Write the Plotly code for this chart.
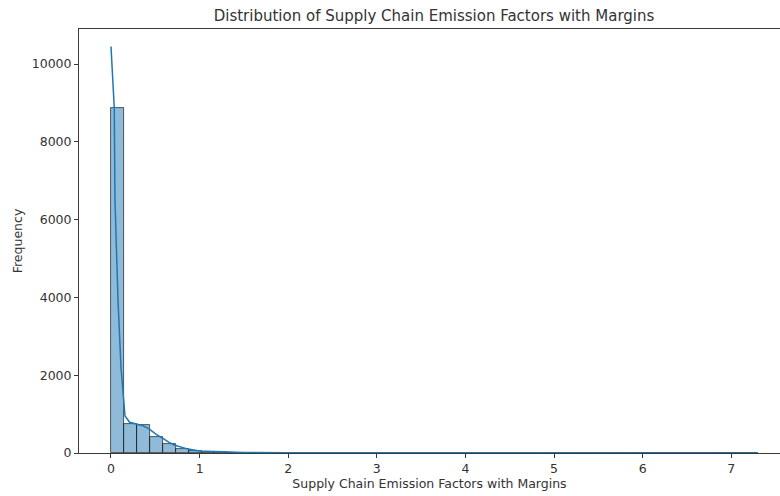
import numpy as np
import plotly.graph_objects as go

# ---- data ----
data_min = 0.0
data_max = 7.3
bin_counts = [8870, 740, 715, 410, 220, 110, 55, 30, 18, 12,
              8, 6, 5, 4, 3, 3, 2, 2, 2, 1,
              1, 1, 1, 1, 0, 1, 0, 0, 1, 0,
              1, 0, 0, 0, 1, 0, 0, 0, 0, 1,
              0, 0, 0, 0, 0, 0, 0, 0, 0, 1]

kde_x = [0.0, 0.037, 0.045, 0.079, 0.113, 0.158, 0.21, 0.29, 0.36, 0.43,
         0.51, 0.59, 0.65, 0.72, 0.87, 1.0, 1.25, 1.5, 2.0, 3.0,
         4.0, 5.0, 6.0, 7.0, 7.3]
kde_y = [10450, 8870, 6500, 3930, 2200, 950, 790, 745, 700, 620,
         480, 370, 280, 200, 100, 50, 25, 15, 8, 4,
         3, 2, 2, 1, 1]

x_ticks = [0, 1, 2, 3, 4, 5, 6, 7]
y_ticks = [0, 2000, 4000, 6000, 8000, 10000]

title_text = "Distribution of Supply Chain Emission Factors with Margins"
x_label = "Supply Chain Emission Factors with Margins"
y_label = "Frequency"

# ---- build ----
n_bins = len(bin_counts)
edges = np.linspace(data_min, data_max, n_bins + 1)
centers = (edges[:-1] + edges[1:]) / 2
bw = edges[1] - edges[0]

FONT = "DejaVu Sans"
TXT = "#333333"
AX = "#3a3a3a"
FS = 12.5

fig = go.Figure()
fig.add_trace(go.Bar(
    x=centers, y=bin_counts, width=bw,
    marker=dict(color="rgba(31,119,180,0.5)",
                line=dict(color="rgba(20,20,20,0.85)", width=0.8)),
    showlegend=False, hoverinfo="x+y",
))
fig.add_trace(go.Scatter(
    x=kde_x, y=kde_y, mode="lines",
    line=dict(color="#1f77b4", width=1.5),
    showlegend=False,
))

fig.update_layout(
    width=780, height=496,
    margin=dict(l=79, r=0, t=29, b=43),
    paper_bgcolor="white", plot_bgcolor="white",
    bargap=0,
    font=dict(family=FONT, size=FS, color=TXT),
    title=dict(text=title_text, x=434 / 780, xanchor="center",
               y=1 - 16 / 496, yanchor="middle", yref="container",
               font=dict(family=FONT, size=15, color=TXT)),
    xaxis=dict(
        range=[-0.361, 7.55],
        tickvals=x_ticks, ticktext=[str(v) for v in x_ticks],
        ticks="outside", ticklen=4, tickcolor=AX, tickwidth=1,
        showline=True, linecolor=AX, linewidth=1, mirror=True,
        showgrid=False, zeroline=False,
        title=dict(text=x_label, standoff=4, font=dict(size=FS)),
        tickfont=dict(size=FS),
    ),
    yaxis=dict(
        range=[0, 10900],
        tickvals=y_ticks, ticktext=[str(v) for v in y_ticks],
        ticks="outside", ticklen=4, tickcolor=AX, tickwidth=1,
        showline=True, linecolor=AX, linewidth=1, mirror=False,
        showgrid=False, zeroline=False,
        title=dict(text=y_label, standoff=6, font=dict(size=FS)),
        tickfont=dict(size=FS),
    ),
)

fig.write_html("out.html")
